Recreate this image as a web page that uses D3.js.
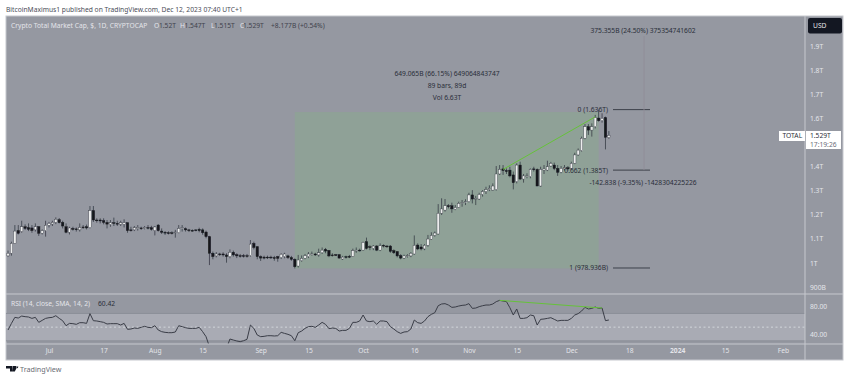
<!DOCTYPE html>
<html>
<head>
<meta charset="utf-8">
<script src="https://cdn.jsdelivr.net/npm/d3@7"></script>
<style>
  html, body { margin: 0; padding: 0; background: #fff; }
  svg { display: block; }
  text { font-family: "Noto Sans", sans-serif; }
</style>
</head>
<body>
<svg id="chart" width="850" height="381"></svg>
<script>
// daily candles, Jun 19 to Dec 12 2023, prices in trillions
const firstDay = Date.UTC(2023, 5, 19);
const opens = [
  1.029,1.040,1.081,1.134,1.130,1.150,1.146,1.145,1.137,1.150,
  1.123,1.134,1.156,1.161,1.168,1.179,1.168,1.150,1.127,1.143,
  1.141,1.137,1.149,1.150,1.146,1.217,1.178,1.178,1.175,1.168,
  1.159,1.167,1.164,1.160,1.160,1.167,1.137,1.137,1.142,1.145,
  1.143,1.147,1.146,1.134,1.157,1.132,1.127,1.125,1.125,1.125,
  1.125,1.142,1.142,1.137,1.135,1.137,1.139,1.137,1.128,1.109,
  1.040,1.029,1.037,1.037,1.033,1.026,1.044,1.034,1.030,1.030,
  1.030,1.030,1.081,1.067,1.026,1.024,1.024,1.024,1.022,1.026,
  1.022,1.026,1.029,1.022,1.015,0.987,
  1.009,1.019,1.026,1.036,1.037,1.033,1.042,1.056,1.052,1.033,
  1.034,1.034,1.016,1.026,1.027,1.027,1.049,1.053,1.053,1.088,
  1.067,1.060,1.070,1.053,1.073,1.070,1.070,1.051,1.047,1.030,
  1.020,1.029,1.029,1.037,1.074,1.066,1.058,1.073,1.098,1.114,
  1.120,1.206,1.219,1.237,1.237,1.222,1.230,1.247,1.250,1.254,
  1.282,1.266,1.265,1.284,1.296,1.304,1.302,1.304,1.369,1.390,
  1.383,1.385,1.365,1.337,1.406,1.348,1.358,1.358,1.390,1.388,
  1.319,1.385,1.385,1.402,1.406,1.392,1.376,1.390,1.395,1.392,
  1.413,1.448,1.466,1.517,1.565,1.551,1.565,1.601,1.590,1.603,1.520
];
const highs = [
  1.051,1.088,1.157,1.157,1.175,1.160,1.164,1.157,1.164,1.153,
  1.139,1.175,1.170,1.175,1.189,1.186,1.175,1.164,1.150,1.150,
  1.147,1.164,1.157,1.159,1.236,1.236,1.185,1.185,1.185,1.178,
  1.178,1.188,1.175,1.175,1.181,1.167,1.150,1.153,1.157,1.150,
  1.153,1.157,1.154,1.153,1.161,1.143,1.132,1.131,1.131,1.137,
  1.157,1.157,1.147,1.141,1.139,1.139,1.146,1.143,1.134,1.112,
  1.047,1.045,1.042,1.044,1.040,1.056,1.051,1.040,1.037,1.037,
  1.037,1.095,1.088,1.070,1.031,1.030,1.030,1.030,1.029,1.029,
  1.040,1.042,1.034,1.029,1.019,1.033,
  1.031,1.037,1.045,1.047,1.042,1.059,1.064,1.062,1.053,1.040,
  1.037,1.037,1.029,1.030,1.033,1.059,1.064,1.059,1.088,1.105,
  1.073,1.074,1.074,1.081,1.077,1.074,1.074,1.056,1.049,1.036,
  1.034,1.036,1.045,1.114,1.081,1.078,1.078,1.116,1.127,1.130,
  1.244,1.268,1.265,1.244,1.250,1.240,1.254,1.261,1.264,1.291,
  1.302,1.278,1.291,1.302,1.316,1.322,1.330,1.402,1.406,1.406,
  1.392,1.399,1.379,1.413,1.420,1.369,1.372,1.392,1.399,1.392,
  1.399,1.406,1.424,1.419,1.416,1.406,1.402,1.406,1.402,1.420,
  1.457,1.475,1.524,1.576,1.576,1.579,1.614,1.636,1.621,1.607,1.547
];
const lows = [
  1.026,1.030,1.081,1.118,1.125,1.137,1.132,1.125,1.130,1.112,
  1.118,1.109,1.147,1.153,1.161,1.164,1.143,1.123,1.118,1.134,
  1.130,1.130,1.141,1.139,1.143,1.170,1.167,1.164,1.160,1.143,
  1.150,1.153,1.153,1.153,1.147,1.125,1.130,1.132,1.134,1.137,
  1.139,1.139,1.134,1.114,1.130,1.120,1.116,1.118,1.118,1.105,
  1.123,1.130,1.130,1.128,1.130,1.131,1.127,1.117,1.102,0.991,
  1.015,1.023,1.029,1.026,1.001,1.019,1.026,1.020,1.022,1.022,
  1.022,1.026,1.056,1.015,1.008,1.015,1.016,1.016,1.009,1.005,
  1.016,1.019,1.016,1.009,0.977,0.981,
  1.005,1.015,1.020,1.030,1.029,1.026,1.037,1.040,1.024,1.026,
  1.029,1.018,1.012,1.018,1.020,1.026,1.042,1.047,1.051,1.056,
  1.053,1.053,1.049,1.049,1.064,1.062,1.042,1.037,1.023,1.015,
  1.016,1.022,1.024,1.034,1.053,1.052,1.053,1.067,1.095,1.109,
  1.117,1.199,1.213,1.226,1.208,1.219,1.228,1.233,1.240,1.251,
  1.247,1.240,1.261,1.275,1.286,1.298,1.300,1.300,1.365,1.365,
  1.369,1.355,1.305,1.330,1.344,1.333,1.351,1.351,1.379,1.319,
  1.316,1.369,1.381,1.399,1.385,1.361,1.372,1.383,1.383,1.388,
  1.410,1.444,1.462,1.513,1.531,1.524,1.558,1.586,1.582,1.471,1.515
];
const closes = [
  1.040,1.081,1.132,1.123,1.150,1.143,1.139,1.134,1.150,1.123,
  1.134,1.156,1.164,1.168,1.181,1.167,1.153,1.127,1.145,1.139,
  1.138,1.147,1.146,1.145,1.217,1.178,1.175,1.174,1.168,1.161,
  1.167,1.164,1.161,1.167,1.167,1.134,1.134,1.146,1.147,1.142,
  1.147,1.145,1.139,1.149,1.134,1.127,1.124,1.124,1.124,1.128,
  1.143,1.146,1.137,1.134,1.134,1.135,1.134,1.125,1.109,1.040,
  1.026,1.037,1.034,1.033,1.026,1.044,1.033,1.029,1.029,1.029,
  1.029,1.078,1.064,1.026,1.020,1.020,1.022,1.022,1.019,1.019,
  1.036,1.037,1.022,1.015,0.984,1.012,
  1.019,1.030,1.037,1.037,1.033,1.042,1.053,1.049,1.029,1.030,
  1.031,1.020,1.024,1.024,1.024,1.051,1.053,1.051,1.085,1.060,
  1.064,1.070,1.053,1.071,1.070,1.067,1.048,1.042,1.029,1.020,
  1.029,1.030,1.040,1.073,1.058,1.058,1.073,1.099,1.114,1.124,
  1.206,1.224,1.237,1.233,1.224,1.230,1.247,1.250,1.254,1.282,
  1.265,1.268,1.284,1.296,1.304,1.309,1.319,1.369,1.388,1.383,
  1.379,1.361,1.333,1.406,1.348,1.361,1.361,1.388,1.387,1.319,
  1.388,1.390,1.399,1.413,1.392,1.376,1.392,1.395,1.390,1.413,
  1.448,1.468,1.517,1.565,1.551,1.565,1.603,1.590,1.600,1.521,1.529
];
const rsiValues = [
  45.8,55.5,64.3,63.3,66.2,65.3,64.8,62.8,64.3,57.0,
  59.9,62.8,63.8,64.3,66.7,62.8,59.4,52.1,55.5,55.1,
  54.1,56.5,56.5,55.5,69.7,59.4,59.0,58.0,57.0,54.6,
  55.1,55.1,55.1,53.1,55.5,46.8,47.3,48.7,48.2,49.7,
  51.2,49.7,49.2,52.1,45.8,43.4,42.4,41.9,41.9,42.9,
  52.1,50.7,49.2,48.2,48.2,48.2,49.7,43.4,36.1,21.5,
  6.9,11.7,11.7,11.7,19.0,32.7,31.2,29.8,28.8,30.2,
  32.2,53.1,48.2,38.5,36.1,36.6,37.5,37.5,37.1,37.5,
  42.4,40.9,39.5,37.5,30.2,41.9,
  44.3,48.2,50.7,51.2,49.7,53.1,57.0,54.1,47.8,48.7,
  48.2,44.3,45.3,45.3,48.2,57.0,57.0,59.0,67.7,59.0,
  58.0,59.0,54.1,59.0,59.0,58.0,50.7,47.3,43.4,40.9,
  42.9,43.4,47.3,60.4,56.5,55.5,59.0,65.3,68.7,71.1,
  81.3,83.8,84.3,82.3,78.9,79.4,80.8,81.8,82.3,84.3,
  77.4,77.9,79.9,81.3,82.3,82.3,83.8,87.2,89.1,88.1,
  87.2,78.4,67.7,76.5,62.8,62.8,63.8,67.7,66.7,53.1,
  61.4,61.9,62.8,63.8,61.4,59.0,59.9,59.9,59.9,62.8,
  67.7,69.7,73.5,78.9,76.5,77.4,79.4,77.4,77.9,59.5,60.42
];

// axis ticks
const priceTicks = [0.9, 1, 1.1, 1.2, 1.3, 1.4, 1.6, 1.7, 1.8, 1.9];
const rsiTicks = [40, 80];
const timeTicks = [
  [2023, 6, 1, "Jul"], [2023, 6, 17, "17"], [2023, 7, 1, "Aug"], [2023, 7, 15, "15"],
  [2023, 8, 1, "Sep"], [2023, 8, 15, "15"], [2023, 9, 1, "Oct"], [2023, 9, 16, "16"],
  [2023, 10, 1, "Nov"], [2023, 10, 15, "15"], [2023, 11, 1, "Dec"], [2023, 11, 18, "18"],
  [2024, 0, 1, "2024"], [2024, 0, 15, "15"], [2024, 1, 1, "Feb"]
];

const dayMs = 86400000;
const candles = opens.map((o, i) => ({
  date: new Date(firstDay + i * dayMs),
  open: o, high: highs[i], low: lows[i], close: closes[i], rsi: rsiValues[i]
}));

const paneLeft = 6, paneRight = 805, outerRight = 843, paneTop = 16, mainBottom = 294, rsiBottom = 344, paneBottom = 360;
const fontSize = 6.7;

const x = d3.scaleUtc()
  .domain([new Date(Date.UTC(2023, 6, 1)), new Date(Date.UTC(2024, 1, 1))])
  .range([49, 783]);
const yPrice = d3.scaleLinear().domain([0.9, 1.9]).range([287, 46]);
const yRsi = d3.scaleLinear().domain([40, 80]).range([334, 306.6]);

const svg = d3.select("#chart");
const bg = "#9598a1", labelColor = "#e4e5ea", inkColor = "#2a2e39";

svg.append("rect").attr("x", paneLeft).attr("y", paneTop)
  .attr("width", outerRight - paneLeft).attr("height", paneBottom - paneTop)
  .attr("fill", bg).attr("stroke", "#c6c8ce");

// clip for the rsi pane, the line runs off the bottom in august
const defs = svg.append("defs");
defs.append("clipPath").attr("id", "rsi-clip").append("rect")
  .attr("x", paneLeft).attr("y", mainBottom).attr("width", paneRight - paneLeft).attr("height", rsiBottom - mainBottom);
defs.append("clipPath").attr("id", "main-clip").append("rect")
  .attr("x", paneLeft).attr("y", paneTop).attr("width", paneRight - paneLeft).attr("height", mainBottom - paneTop);
// the reference is a soft upscaled screenshot
defs.append("filter").attr("id", "soft").append("feGaussianBlur").attr("stdDeviation", 0.3);

// date and price range box
const rangeStart = new Date(Date.UTC(2023, 8, 11)), rangeEnd = new Date(Date.UTC(2023, 11, 9));
const rangeLow = 0.977, rangeHigh = 1.626;
svg.append("rect")
  .attr("x", x(rangeStart)).attr("y", yPrice(rangeHigh))
  .attr("width", x(rangeEnd) - x(rangeStart)).attr("height", yPrice(rangeLow) - yPrice(rangeHigh))
  .attr("fill", "#8fa197");

// candles
const main = svg.append("g").attr("clip-path", "url(#main-clip)").append("g").attr("filter", "url(#soft)");
const bars = main.selectAll(".candle").data(candles).enter().append("g").attr("class", "candle");
bars.append("line")
  .attr("x1", d => x(d.date)).attr("x2", d => x(d.date))
  .attr("y1", d => yPrice(d.high)).attr("y2", d => yPrice(d.low))
  .attr("stroke", inkColor).attr("stroke-width", 0.7);
bars.append("rect")
  .attr("x", d => x(d.date) - 1.2).attr("width", 2.4)
  .attr("y", d => yPrice(Math.max(d.open, d.close)))
  .attr("height", d => Math.max(0.8, Math.abs(yPrice(d.open) - yPrice(d.close))))
  .attr("fill", d => d.close >= d.open ? "#eceded" : "#14161c")
  .attr("stroke", d => d.close >= d.open ? "#3a3d46" : "#14161c")
  .attr("stroke-width", 0.4);

// trend line from november high to december high
const trendDays = [candles[145], candles[172]];
svg.append("line")
  .attr("x1", x(trendDays[0].date)).attr("y1", yPrice(1.388))
  .attr("x2", x(trendDays[1].date)).attr("y2", yPrice(1.606))
  .attr("stroke", "#66c23a").attr("stroke-width", 1);

// fib levels
const fibLevels = [
  { price: 1.636, label: "0 (1.636T)" },
  { price: 1.385, label: "0.662 (1.385T)" },
  { price: 0.9789, label: "1 (978.936B)" }
];
svg.selectAll(".fib-line").data(fibLevels).enter().append("line")
  .attr("x1", 613).attr("x2", 650)
  .attr("y1", d => yPrice(d.price)).attr("y2", d => yPrice(d.price))
  .attr("stroke", "#3d404a").attr("stroke-width", 1);
svg.selectAll(".fib-label").data(fibLevels).enter().append("text")
  .attr("x", 608).attr("y", d => yPrice(d.price) + 2.5)
  .attr("text-anchor", "end").attr("font-size", fontSize).attr("fill", inkColor)
  .text(d => d.label);

// faint measure line
svg.append("line").attr("x1", 644).attr("x2", 644)
  .attr("y1", 36).attr("y2", yPrice(1.385))
  .attr("stroke", "#8f8c98").attr("stroke-width", 0.8);

// measure captions
const captions = [
  { x: 447, y: 75.8, text: "649.065B (66.15%) 649064843747" },
  { x: 447, y: 87.5, text: "89 bars, 89d" },
  { x: 447, y: 99.8, text: "Vol 6.63T" },
  { x: 643, y: 32.5, text: "375.355B (24.50%) 375354741602" },
  { x: 643, y: 185.2, text: "-142.838 (-9.35%) -1428304225226" }
];
svg.selectAll(".caption").data(captions).enter().append("text")
  .attr("x", d => d.x).attr("y", d => d.y)
  .attr("text-anchor", "middle").attr("font-size", fontSize).attr("fill", inkColor)
  .text(d => d.text);

// rsi pane
svg.append("rect").attr("x", paneLeft).attr("y", yRsi(70))
  .attr("width", paneRight - paneLeft).attr("height", yRsi(30) - yRsi(70))
  .attr("fill", "#a9abb4");
[70, 30].forEach(v => {
  svg.append("line").attr("x1", paneLeft).attr("x2", paneRight)
    .attr("y1", yRsi(v)).attr("y2", yRsi(v))
    .attr("stroke", "#8c8f98").attr("stroke-width", 1);
});
svg.append("line").attr("x1", paneLeft).attr("x2", paneRight)
  .attr("y1", yRsi(50)).attr("y2", yRsi(50))
  .attr("stroke", "#d3d5da").attr("stroke-dasharray", "2 2.5");

const rsiLine = d3.line().x(d => x(d.date)).y(d => yRsi(d.rsi));
svg.append("path").datum(candles)
  .attr("clip-path", "url(#rsi-clip)")
  .attr("d", rsiLine)
  .attr("fill", "none").attr("stroke", "#3a3d47").attr("stroke-width", 1);
svg.append("line")
  .attr("x1", x(candles[144].date)).attr("y1", yRsi(89.1))
  .attr("x2", x(candles[174].date)).attr("y2", yRsi(77.9))
  .attr("stroke", "#66c23a").attr("stroke-width", 1);

// pane separators
[
  [paneLeft, mainBottom, outerRight, mainBottom],
  [paneLeft, rsiBottom, outerRight, rsiBottom],
  [paneRight, paneTop, paneRight, paneBottom]
].forEach(s => {
  svg.append("line").attr("x1", s[0]).attr("y1", s[1]).attr("x2", s[2]).attr("y2", s[3])
    .attr("stroke", "#c6c8ce").attr("stroke-width", 1);
});

// axes
function styleAxis(g) {
  g.select(".domain").remove();
  g.selectAll(".tick line").remove();
  g.selectAll(".tick text").attr("fill", labelColor).attr("font-size", fontSize)
    .attr("font-family", '"Noto Sans", sans-serif');
}
const priceFormat = v => v < 1 ? Math.round(v * 1000) + "B" : d3.format("~g")(v) + "T";
svg.append("g").attr("transform", `translate(${paneRight},0)`)
  .call(d3.axisRight(yPrice).tickValues(priceTicks).tickFormat(priceFormat).tickSize(0).tickPadding(5))
  .call(styleAxis);
svg.append("g").attr("transform", `translate(${paneRight},0)`)
  .call(d3.axisRight(yRsi).tickValues(rsiTicks).tickFormat(d3.format(".2f")).tickSize(0).tickPadding(5))
  .call(styleAxis);

const tickDates = timeTicks.map(t => new Date(Date.UTC(t[0], t[1], t[2])));
const tickNames = new Map(tickDates.map((d, i) => [+d, timeTicks[i][3]]));
svg.append("g").attr("transform", `translate(0,${rsiBottom})`)
  .call(d3.axisBottom(x).tickValues(tickDates).tickFormat(d => tickNames.get(+d)).tickSize(0).tickPadding(4))
  .call(styleAxis)
  .selectAll(".tick text")
  .attr("font-weight", d => tickNames.get(+d) === "2024" ? 700 : 400);

// header and legends
function label(px, py, str, size, fill, anchor) {
  return svg.append("text").attr("x", px).attr("y", py).attr("font-size", size)
    .attr("fill", fill).attr("text-anchor", anchor || "start").text(str);
}
const legendValue = "#3f424c";
label(6, 12.4, "BitcoinMaximus1 published on TradingView.com, Dec 12, 2023 07:40 UTC+1", fontSize, "#4a4d57");
label(11, 28.4, "Crypto Total Market Cap, $, 1D, CRYPTOCAP", fontSize, labelColor);
[[154, "O"], [180, "H"], [211, "L"], [240, "C"]].forEach(o => label(o[0], 28.4, o[1], fontSize, labelColor));
[[159, "1.52T"], [184.5, "1.547T"], [214, "1.515T"], [243, "1.529T"], [271, "+8.177B (+0.54%)"]]
  .forEach(o => label(o[0], 28.4, o[1], fontSize, legendValue));
label(11, 306.4, "RSI (14, close, SMA, 14, 2)", fontSize, labelColor);
label(98, 306.4, "60.42", fontSize, inkColor);

// usd button and last price tags
svg.append("rect").attr("x", 808).attr("y", 18).attr("width", 34).attr("height", 15.5).attr("rx", 2).attr("fill", "#131722");
label(813, 28.2, "USD", fontSize, "#e4e5ea");
svg.append("rect").attr("x", 779).attr("y", 131).attr("width", 26).attr("height", 10).attr("fill", "#fff");
label(782.5, 138.4, "TOTAL", fontSize, inkColor);
svg.append("rect").attr("x", 806).attr("y", 131).attr("width", 35).attr("height", 18).attr("fill", "#fff");
label(810, 138.2, "1.529T", fontSize, inkColor);
label(810, 146.6, "17:19:26", fontSize, "#6a6d78");

// footer logo and name
svg.append("path").attr("d", "M6 366h6.5v5.5h-2.5v-3h-4z M13 366h4.6l-2.8 5.5h-2.3z M17.2 366a1 1 0 1 0 .01 0z").attr("fill", "#131722");
label(20, 372.3, "TradingView", 7.2, "#6a6d75");
</script>
</body>
</html>
